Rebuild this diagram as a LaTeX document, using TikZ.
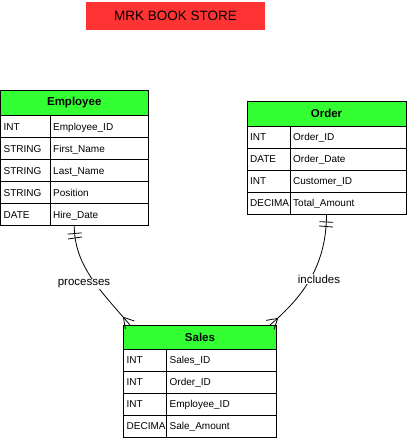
\documentclass[tikz,border=0pt]{standalone}
\usepackage{fontspec}
\setmainfont{Liberation Sans}
\usetikzlibrary{calc,fit,decorations.markings}
\definecolor{hdrgreen}{HTML}{33FF33}
\definecolor{titlered}{HTML}{FF3333}
\newcommand\erow[6]{%
  \node[cell, minimum width=#3pt, label={[lbl]west:#5}] (#1a) at #2 {};
  \node[cell, minimum width=#4pt, label={[lbl]west:#6}] (#1b) at (#1a.north east) {};}
\begin{document}
\begin{tikzpicture}[x=1pt,y=-1pt,
  cellfont/.style={font=\fontsize{10}{12}\selectfont},
  cell/.style={draw=black, line width=0.9pt, anchor=north west, inner sep=0pt, outer sep=0pt, minimum height=22pt, fill=white},
  lbl/.style={anchor=west, inner xsep=3pt, inner ysep=0pt, text height=7.2pt, text depth=0pt, yshift=-0.3pt, cellfont, text=black},
  hdr/.style={draw=black, line width=0.9pt, fill=hdrgreen, anchor=north west, inner sep=0pt, outer sep=0pt, font=\bfseries\fontsize{11.5}{13}\selectfont},
  conn/.style={draw=black, line width=0.8pt},
  onemark/.style={postaction={decorate}, decoration={markings,
     mark=at position 8pt with {\draw[line width=0.8pt] (0,-7pt) -- (0,7pt);},
     mark=at position 12.5pt with {\draw[line width=0.8pt] (0,-7pt) -- (0,7pt);},
     mark=at position 0.999 with {\draw[line width=0.8pt] (-10pt,0) -- (0,6pt); \draw[line width=0.8pt] (-10pt,0) -- (0,-6pt);}}},
  rel/.style={fill=white, inner sep=1pt, font=\fontsize{11.5}{13}\selectfont}
]
\useasboundingbox (0,0) rectangle (407,438);

% title
\node[fill=titlered, minimum width=179pt, minimum height=28pt, inner sep=0pt, font=\fontsize{13.5}{15}\selectfont] (title) at (175.5,16) {MRK BOOK STORE};

% Employee
\node[hdr, minimum width=147.5pt, minimum height=25.5pt] (emph) at (0.5,90) {Employee};
\erow{emp1}{(emph.south west)}{49.5}{98}{INT}{Employee\_ID}
\erow{emp2}{(emp1a.south west)}{49.5}{98}{STRING}{First\_Name}
\erow{emp3}{(emp2a.south west)}{49.5}{98}{STRING}{Last\_Name}
\erow{emp4}{(emp3a.south west)}{49.5}{98}{STRING}{Position}
\erow{emp5}{(emp4a.south west)}{49.5}{98}{DATE}{Hire\_Date}
\node[fit=(emph)(emp5a)(emp5b), inner sep=0pt, outer sep=0pt] (employee) {};

% Order
\node[hdr, minimum width=159pt, minimum height=24.5pt] (ordh) at (247,101.5) {Order};
\erow{ord1}{(ordh.south west)}{43}{116}{INT}{Order\_ID}
\erow{ord2}{(ord1a.south west)}{43}{116}{DATE}{Order\_Date}
\erow{ord3}{(ord2a.south west)}{43}{116}{INT}{Customer\_ID}
\erow{ord4}{(ord3a.south west)}{43}{116}{DECIMA}{Total\_Amount}
\node[fit=(ordh)(ord4a)(ord4b), inner sep=0pt, outer sep=0pt] (order) {};

% Sales
\node[hdr, minimum width=153pt, minimum height=24pt] (salh) at (123.5,325) {Sales};
\erow{sal1}{(salh.south west)}{43}{110}{INT}{Sales\_ID}
\erow{sal2}{(sal1a.south west)}{43}{110}{INT}{Order\_ID}
\erow{sal3}{(sal2a.south west)}{43}{110}{INT}{Employee\_ID}
\erow{sal4}{(sal3a.south west)}{43}{110}{DECIMA}{Sale\_Amount}

% connectors
\draw[conn, onemark] (employee.south) .. controls +(0,40) and +(-30,-35) .. ($(salh.north west)+(6.5,0)$);
\draw[conn, onemark] (order.south) .. controls +(0,50) and +(35,-30) .. ($(salh.north east)+(-6.5,0)$);
\node[rel] (lproc) at (84,284) {processes};
\node[rel] (lincl) at (319,279) {includes};
\end{tikzpicture}
\end{document}
